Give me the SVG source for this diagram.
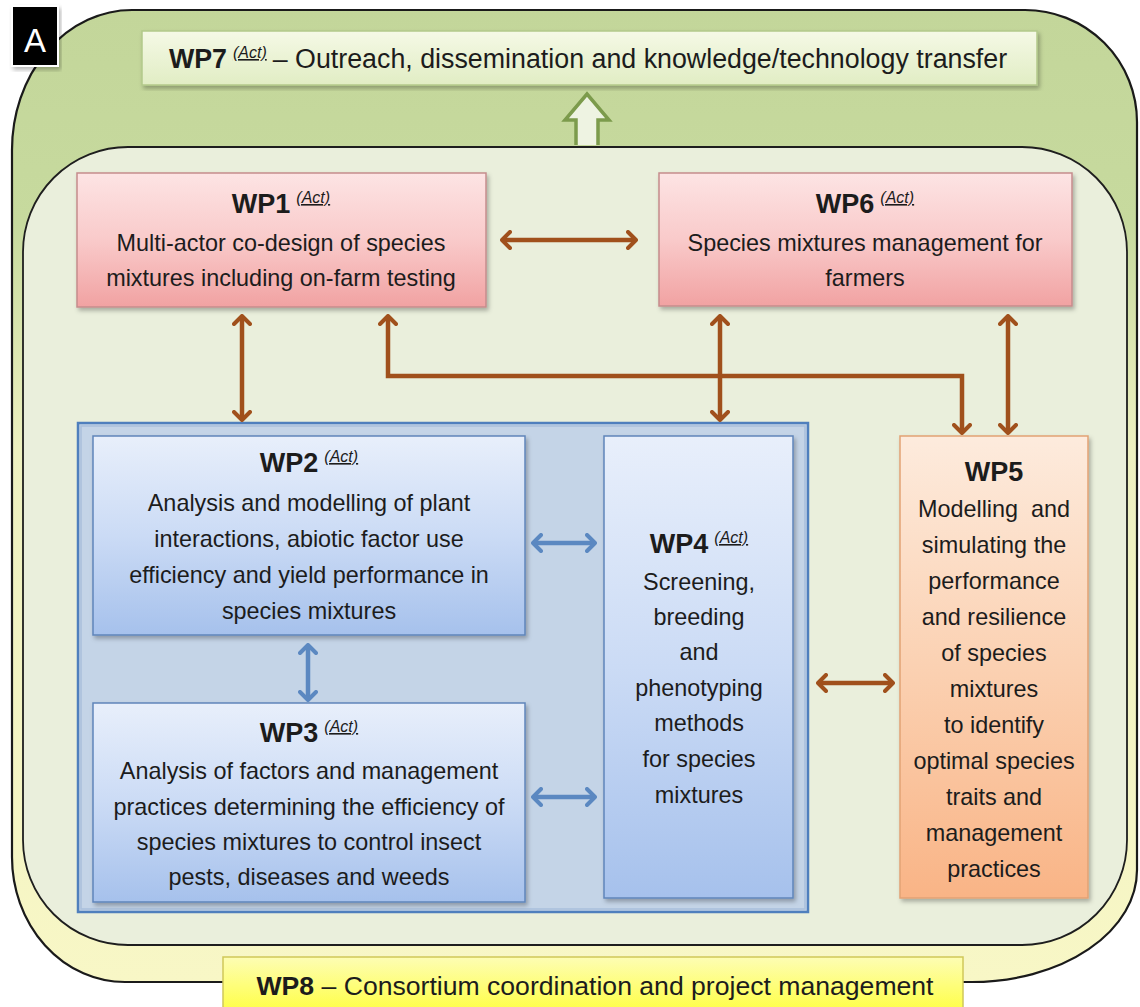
<svg xmlns="http://www.w3.org/2000/svg" width="1140" height="1007" viewBox="0 0 1140 1007">
<style>
text{font-family:"Liberation Sans",Arial,sans-serif;fill:#1c1c1c}
.b{font-size:23.4px;text-anchor:middle}
.t{font-size:27px;font-weight:bold;text-anchor:middle}
.act{font-size:16px;font-style:italic;text-decoration:underline;font-weight:normal}
.br{fill:none;stroke:#a0501c;stroke-width:4.5}
.bl{fill:none;stroke:#5b88c1;stroke-width:4.5}
</style>
<defs>
<linearGradient id="gOuter" x1="0" y1="0" x2="0" y2="1">
<stop offset="0" stop-color="#c3d69a"/><stop offset="0.22" stop-color="#c7da9e"/><stop offset="0.45" stop-color="#edf0c0"/><stop offset="1" stop-color="#f8f7c6"/>
</linearGradient>
<linearGradient id="gWP7" x1="0" y1="0" x2="0" y2="1"><stop offset="0" stop-color="#f5f9e6"/><stop offset="1" stop-color="#e1edc4"/></linearGradient>
<linearGradient id="gPink" x1="0" y1="0" x2="0" y2="1"><stop offset="0" stop-color="#fde4e4"/><stop offset="0.5" stop-color="#f9caca"/><stop offset="1" stop-color="#f1a2a2"/></linearGradient>
<linearGradient id="gBlue" x1="0" y1="0" x2="0" y2="1"><stop offset="0" stop-color="#e8effb"/><stop offset="0.5" stop-color="#cbdbf5"/><stop offset="1" stop-color="#a6c1ec"/></linearGradient>
<linearGradient id="gOrange" x1="0" y1="0" x2="0" y2="1"><stop offset="0" stop-color="#fdebdd"/><stop offset="0.5" stop-color="#fbd1b2"/><stop offset="1" stop-color="#f9b486"/></linearGradient>
<linearGradient id="gYellow" x1="0" y1="0" x2="0" y2="1"><stop offset="0" stop-color="#fdfdb4"/><stop offset="1" stop-color="#ffff3a"/></linearGradient>
<filter id="sh" x="-5%" y="-5%" width="112%" height="115%"><feDropShadow dx="2" dy="3" stdDeviation="2" flood-color="#000" flood-opacity="0.28"/></filter>
<marker id="mbr" viewBox="0 0 12 20" refX="10" refY="10" markerWidth="12" markerHeight="20" orient="auto-start-reverse" markerUnits="userSpaceOnUse"><path d="M2,2 L10,10 L2,18" fill="none" stroke="#a0501c" stroke-width="4" stroke-linecap="round" stroke-linejoin="round"/></marker>
<marker id="mbl" viewBox="0 0 12 20" refX="10" refY="10" markerWidth="12" markerHeight="20" orient="auto-start-reverse" markerUnits="userSpaceOnUse"><path d="M2,2 L10,10 L2,18" fill="none" stroke="#5b88c1" stroke-width="4" stroke-linecap="round" stroke-linejoin="round"/></marker>
</defs>
<rect width="1140" height="1007" fill="#ffffff"/>
<g id="outer">
<path d="M132,10 H1025 A112,112 0 0 1 1137,122 V870 A165,112 0 0 1 972,982 H125 A113,125 0 0 1 12,857 V150 A120,140 0 0 1 132,10 Z" fill="url(#gOuter)" stroke="#1a1a1a" stroke-width="2.2"/>
</g>
<g id="inner">
<rect x="23" y="147" width="1104" height="798" rx="105" ry="105" fill="#eaefdc" stroke="#1e1e1e" stroke-width="1.8"/>
</g>
<g id="label-A">
<rect x="12" y="6" width="46" height="60" fill="#000" stroke="#fff" stroke-width="2" filter="url(#sh)"/>
<text x="35" y="52" style="font-size:33px;fill:#fff;text-anchor:middle">A</text>
</g>
<g id="wp7">
<rect x="142" y="31" width="895" height="54" fill="url(#gWP7)" stroke="#b3c98a" stroke-width="1.5" filter="url(#sh)"/>
<text x="588" y="68" style="font-size:26.8px;text-anchor:middle"><tspan style="font-weight:bold">WP7</tspan><tspan class="act" dx="6" dy="-10">(Act)</tspan><tspan dx="6" dy="10">– Outreach, dissemination and knowledge/technology transfer</tspan></text>
</g>
<g id="up-arrow">
<path d="M576,145 V120 H565 L587,94 L609,120 H598 V145" fill="#eef3e2" stroke="#7c9b4c" stroke-width="3.5" stroke-linejoin="miter"/>
</g>
<g id="wp1">
<rect x="77" y="173" width="409" height="134" fill="url(#gPink)" stroke="#c58c8c" stroke-width="1.5" filter="url(#sh)"/>
<text x="281" y="213" class="t">WP1<tspan class="act" dx="6" dy="-10">(Act)</tspan></text>
<text x="281" y="251" class="b">Multi-actor co-design of species</text>
<text x="281" y="286" class="b">mixtures including on-farm testing</text>
</g>
<g id="wp6">
<rect x="659" y="173" width="413" height="133" fill="url(#gPink)" stroke="#c58c8c" stroke-width="1.5" filter="url(#sh)"/>
<text x="865" y="213" class="t">WP6<tspan class="act" dx="6" dy="-10">(Act)</tspan></text>
<text x="865" y="251" class="b">Species mixtures management for</text>
<text x="865" y="286" class="b">farmers</text>
</g>
<g id="container">
<rect x="78" y="423" width="730" height="489" fill="#c4d4e7" stroke="#4f7fbd" stroke-width="2.5"/>
<rect x="81" y="426" width="724" height="483" fill="none" stroke="#a9bfdc" stroke-width="1.5"/>
</g>
<g id="wp2">
<rect x="93" y="436" width="432" height="199" fill="url(#gBlue)" stroke="#5f85ba" stroke-width="1.5" filter="url(#sh)"/>
<text x="309" y="472" class="t">WP2<tspan class="act" dx="6" dy="-10">(Act)</tspan></text>
<text x="309" y="511" class="b">Analysis and modelling of plant</text>
<text x="309" y="547" class="b">interactions, abiotic factor use</text>
<text x="309" y="583" class="b">efficiency and yield performance in</text>
<text x="309" y="619" class="b">species mixtures</text>
</g>
<g id="wp3">
<rect x="93" y="703" width="432" height="199" fill="url(#gBlue)" stroke="#5f85ba" stroke-width="1.5" filter="url(#sh)"/>
<text x="309" y="742" class="t">WP3<tspan class="act" dx="6" dy="-10">(Act)</tspan></text>
<text x="309" y="779" class="b">Analysis of factors and management</text>
<text x="309" y="815" class="b">practices determining the efficiency of</text>
<text x="309" y="850" class="b">species mixtures to control insect</text>
<text x="309" y="885" class="b">pests, diseases and weeds</text>
</g>
<g id="wp4">
<rect x="604" y="436" width="189" height="462" fill="url(#gBlue)" stroke="#5f85ba" stroke-width="1.5" filter="url(#sh)"/>
<text x="699" y="553" class="t">WP4<tspan class="act" dx="6" dy="-10">(Act)</tspan></text>
<text x="699" y="590" class="b">Screening,</text>
<text x="699" y="625" class="b">breeding</text>
<text x="699" y="660" class="b">and</text>
<text x="699" y="696" class="b">phenotyping</text>
<text x="699" y="731" class="b">methods</text>
<text x="699" y="767" class="b">for species</text>
<text x="699" y="803" class="b">mixtures</text>
</g>
<g id="wp5">
<rect x="900" y="436" width="188" height="462" fill="url(#gOrange)" stroke="#e2a274" stroke-width="1.5" filter="url(#sh)"/>
<text x="994" y="481" class="t">WP5</text>
<text x="994" y="517" class="b" xml:space="preserve">Modelling  and</text>
<text x="994" y="553" class="b">simulating the</text>
<text x="994" y="589" class="b">performance</text>
<text x="994" y="625" class="b">and resilience</text>
<text x="994" y="661" class="b">of species</text>
<text x="994" y="697" class="b">mixtures</text>
<text x="994" y="733" class="b">to identify</text>
<text x="994" y="769" class="b">optimal species</text>
<text x="994" y="805" class="b">traits and</text>
<text x="994" y="841" class="b">management</text>
<text x="994" y="877" class="b">practices</text>
</g>
<g id="wp8">
<rect x="223" y="957" width="740" height="60" fill="url(#gYellow)" stroke="#cfc85a" stroke-width="1.5"/>
<text x="595" y="995" style="font-size:26.6px;text-anchor:middle"><tspan style="font-weight:bold">WP8</tspan> – Consortium coordination and project management</text>
</g>
<g id="connectors">
<path class="br" d="M502,240 H636" marker-start="url(#mbr)" marker-end="url(#mbr)"/>
<path class="br" d="M242,316 V420" marker-start="url(#mbr)" marker-end="url(#mbr)"/>
<path class="br" d="M388,316 V376 H962 V433" marker-start="url(#mbr)" marker-end="url(#mbr)"/>
<path class="br" d="M720,316 V420" marker-start="url(#mbr)" marker-end="url(#mbr)"/>
<path class="br" d="M1008,316 V433" marker-start="url(#mbr)" marker-end="url(#mbr)"/>
<path class="br" d="M818,683 H893" marker-start="url(#mbr)" marker-end="url(#mbr)"/>
<path class="bl" d="M533,543 H595" marker-start="url(#mbl)" marker-end="url(#mbl)"/>
<path class="bl" d="M533,797 H595" marker-start="url(#mbl)" marker-end="url(#mbl)"/>
<path class="bl" d="M308,645 V700" marker-start="url(#mbl)" marker-end="url(#mbl)"/>
</g>
</svg>
